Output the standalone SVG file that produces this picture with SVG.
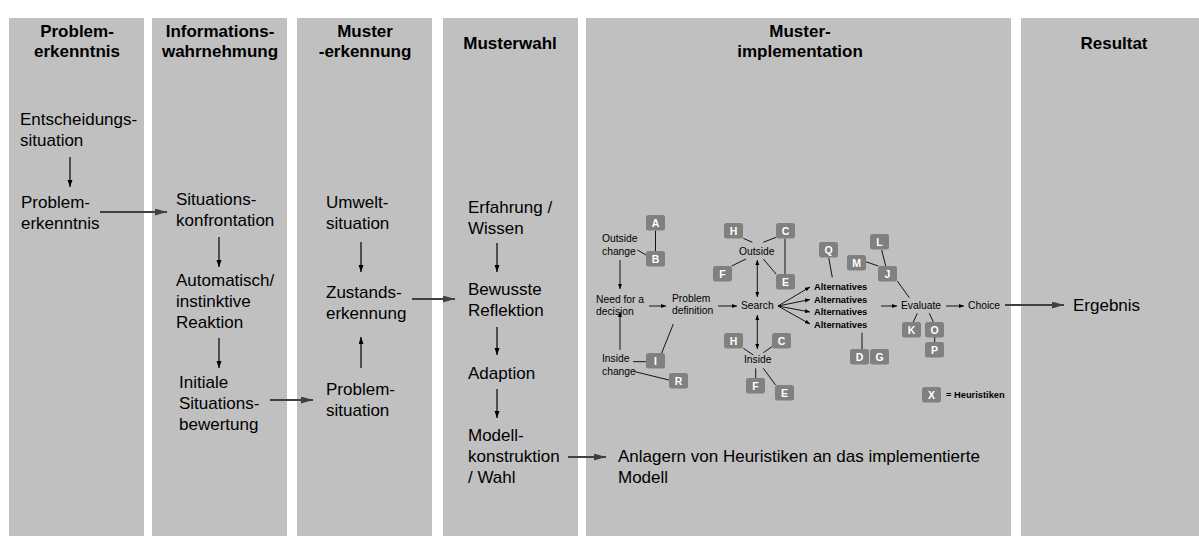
<svg xmlns="http://www.w3.org/2000/svg" width="1199" height="536" viewBox="0 0 1199 536">
<style>
.col{fill:#c0c0c0}
.hd{font-family:"Liberation Sans",Arial,sans-serif;font-size:17px;font-weight:bold;fill:#000;text-anchor:middle}
.tx{font-family:"Liberation Sans",Arial,sans-serif;font-size:17px;fill:#000}
.sm{font-family:"Liberation Sans",Arial,sans-serif;font-size:10.3px;fill:#000}
.smb{font-family:"Liberation Sans",Arial,sans-serif;font-size:9.3px;font-weight:bold;fill:#000}
.hb rect{fill:#808080}
.hb text{font-family:"Liberation Sans",Arial,sans-serif;font-size:10.5px;font-weight:bold;fill:#fff;text-anchor:middle}
.a1{stroke:#000;stroke-width:1.2;fill:none;marker-end:url(#ah)}
.a2{stroke:#404040;stroke-width:2.2;fill:none;marker-end:url(#ahT)}
.a3{stroke:#000;stroke-width:0.9;fill:none;marker-end:url(#ahS)}
.a4{stroke:#000;stroke-width:0.9;fill:none;marker-end:url(#ahS);marker-start:url(#ahS)}
.ln{stroke:#000;stroke-width:0.9;fill:none}
</style>
<defs>
<marker id="ah" markerUnits="userSpaceOnUse" markerWidth="8" markerHeight="6" refX="7" refY="2.5" orient="auto"><path d="M0,0 L7,2.5 L0,5 z" fill="#000"/></marker>
<marker id="ahT" markerUnits="userSpaceOnUse" markerWidth="13" markerHeight="8" refX="12" refY="3.5" orient="auto"><path d="M0,0 L12,3.5 L0,7 z" fill="#404040"/></marker>
<marker id="ahS" markerUnits="userSpaceOnUse" markerWidth="6" markerHeight="5" refX="5" refY="2" orient="auto-start-reverse"><path d="M0,0 L5,2 L0,4 z" fill="#000"/></marker>
</defs>
<rect width="1199" height="536" fill="#fff"/>
<g id="columns">
<rect class="col" x="9" y="18" width="135" height="518"/>
<rect class="col" x="152" y="18" width="135" height="518"/>
<rect class="col" x="297" y="18" width="135" height="518"/>
<rect class="col" x="443" y="18" width="135" height="518"/>
<rect class="col" x="586" y="18" width="425" height="518"/>
<rect class="col" x="1021" y="18" width="178" height="518"/>
</g>
<g id="headers">
<text class="hd" x="77" y="37">Problem-</text><text class="hd" x="77" y="57">erkenntnis</text>
<text class="hd" x="220" y="37">Informations-</text><text class="hd" x="220" y="57">wahrnehmung</text>
<text class="hd" x="365" y="37">Muster</text><text class="hd" x="365" y="57">-erkennung</text>
<text class="hd" x="510" y="49">Musterwahl</text>
<text class="hd" x="800" y="37">Muster-</text><text class="hd" x="800" y="57">implementation</text>
<text class="hd" x="1114" y="49">Resultat</text>
</g>
<g id="n-entscheidung"><text class="tx" x="20" y="125">Entscheidungs-</text><text class="tx" x="20" y="146">situation</text></g>
<g id="n-problemerkenntnis"><text class="tx" x="21" y="208">Problem-</text><text class="tx" x="21" y="229">erkenntnis</text></g>
<g id="n-konfrontation"><text class="tx" x="176" y="205">Situations-</text><text class="tx" x="176" y="226">konfrontation</text></g>
<g id="n-reaktion"><text class="tx" x="176" y="286">Automatisch/</text><text class="tx" x="176" y="307">instinktive</text><text class="tx" x="176" y="328">Reaktion</text></g>
<g id="n-bewertung"><text class="tx" x="179" y="388">Initiale</text><text class="tx" x="179" y="409">Situations-</text><text class="tx" x="179" y="430">bewertung</text></g>
<g id="n-umwelt"><text class="tx" x="326" y="208">Umwelt-</text><text class="tx" x="326" y="229">situation</text></g>
<g id="n-zustand"><text class="tx" x="326" y="298">Zustands-</text><text class="tx" x="326" y="319">erkennung</text></g>
<g id="n-problemsituation"><text class="tx" x="326" y="395">Problem-</text><text class="tx" x="326" y="416">situation</text></g>
<g id="n-erfahrung"><text class="tx" x="468" y="213">Erfahrung /</text><text class="tx" x="468" y="234">Wissen</text></g>
<g id="n-reflektion"><text class="tx" x="468" y="295">Bewusste</text><text class="tx" x="468" y="316">Reflektion</text></g>
<g id="n-adaption"><text class="tx" x="468" y="379">Adaption</text></g>
<g id="n-modell"><text class="tx" x="468" y="441">Modell-</text><text class="tx" x="468" y="462">konstruktion</text><text class="tx" x="468" y="483">/ Wahl</text></g>
<g id="n-anlagern"><text class="tx" x="618" y="462">Anlagern von Heuristiken an das implementierte</text><text class="tx" x="618" y="483">Modell</text></g>
<g id="n-ergebnis"><text class="tx" x="1073" y="311">Ergebnis</text></g>
<g id="n-model-texts">
<text class="sm" x="602" y="242">Outside</text><text class="sm" x="602" y="255">change</text>
<text class="sm" x="596" y="303">Need for a</text><text class="sm" x="596" y="315">decision</text>
<text class="sm" x="672" y="302">Problem</text><text class="sm" x="672" y="314">definition</text>
<text class="sm" x="741" y="309">Search</text>
<text class="sm" x="602" y="362">Inside</text><text class="sm" x="602" y="375">change</text>
<text class="sm" x="739" y="255">Outside</text>
<text class="sm" x="744" y="363">Inside</text>
<text class="smb" x="814" y="290">Alternatives</text>
<text class="smb" x="814" y="302.7">Alternatives</text>
<text class="smb" x="814" y="315.3">Alternatives</text>
<text class="smb" x="814" y="328">Alternatives</text>
<text class="sm" x="901" y="309">Evaluate</text>
<text class="sm" x="968" y="309">Choice</text>
<text class="smb" x="946" y="398">= Heuristiken</text>
</g>
<g id="connectors">
<line class="a1" x1="70" y1="157" x2="70" y2="187"/>
<line class="a2" x1="100" y1="212" x2="167" y2="212"/>
<line class="a1" x1="219" y1="237" x2="219" y2="267"/>
<line class="a1" x1="219" y1="338" x2="219" y2="368"/>
<line class="a2" x1="270" y1="400" x2="313" y2="400"/>
<line class="a1" x1="361" y1="242" x2="361" y2="272"/>
<line class="a1" x1="361" y1="368" x2="361" y2="337"/>
<line class="a2" x1="412" y1="299" x2="455" y2="299"/>
<line class="a1" x1="497" y1="243" x2="497" y2="272"/>
<line class="a1" x1="497" y1="327" x2="497" y2="355"/>
<line class="a1" x1="497" y1="389" x2="497" y2="418"/>
<line class="a2" x1="568" y1="457" x2="606" y2="457"/>
<line class="a2" x1="1005" y1="305" x2="1064" y2="305"/>
<line class="a3" x1="620" y1="260" x2="620" y2="289"/>
<line class="a3" x1="620" y1="350" x2="620" y2="312"/>
<line class="a3" x1="649" y1="306" x2="666" y2="306"/>
<line class="a3" x1="718" y1="306" x2="737" y2="306"/>
<line class="a3" x1="778" y1="306" x2="810" y2="287"/>
<line class="a3" x1="778" y1="306" x2="810" y2="299.5"/>
<line class="a3" x1="778" y1="306" x2="810" y2="312"/>
<line class="a3" x1="778" y1="306" x2="810" y2="324"/>
<line class="a4" x1="757.3" y1="260" x2="757.3" y2="297"/>
<line class="a4" x1="757.3" y1="315" x2="757.3" y2="349"/>
<line class="a3" x1="881" y1="306" x2="897" y2="306"/>
<line class="a3" x1="946" y1="306" x2="964" y2="306"/>
<line class="ln" x1="655.5" y1="230.5" x2="655.5" y2="251"/>
<line class="ln" x1="637.5" y1="250" x2="646" y2="255"/>
<line class="ln" x1="633" y1="361.7" x2="646" y2="361.7"/>
<line class="ln" x1="661.7" y1="353" x2="673.3" y2="324"/>
<line class="ln" x1="635" y1="371.7" x2="669" y2="380"/>
<line class="ln" x1="743.3" y1="238.3" x2="752.3" y2="242.3"/>
<line class="ln" x1="776" y1="237.3" x2="763.3" y2="242.3"/>
<line class="ln" x1="785" y1="238.5" x2="785" y2="274"/>
<line class="ln" x1="731.7" y1="266" x2="746" y2="259"/>
<line class="ln" x1="763.3" y1="259" x2="776" y2="274"/>
<line class="ln" x1="743.3" y1="348.3" x2="753.3" y2="355"/>
<line class="ln" x1="772" y1="346.7" x2="763.3" y2="352.7"/>
<line class="ln" x1="755.7" y1="368.3" x2="755.7" y2="378.3"/>
<line class="ln" x1="763.3" y1="368.3" x2="775.5" y2="385"/>
<line class="ln" x1="828.7" y1="257.7" x2="832.3" y2="277.3"/>
<line class="ln" x1="881.7" y1="250" x2="885.7" y2="266"/>
<line class="ln" x1="865.7" y1="261.7" x2="878.3" y2="266"/>
<line class="ln" x1="897.3" y1="281" x2="909.3" y2="297.7"/>
<line class="ln" x1="917.3" y1="313.3" x2="913.3" y2="322"/>
<line class="ln" x1="929.3" y1="313.3" x2="933.3" y2="322"/>
<line class="ln" x1="934.7" y1="337" x2="934.7" y2="342"/>
<line class="ln" x1="862" y1="332.7" x2="862" y2="349.5"/>
</g>
<g id="h-A" class="hb"><rect x="646" y="215" width="19" height="15.5" rx="2.5"/><text x="655.5" y="226.8">A</text></g>
<g id="h-B" class="hb"><rect x="646" y="251" width="19" height="15.5" rx="2.5"/><text x="655.5" y="262.8">B</text></g>
<g id="h-I" class="hb"><rect x="646" y="353" width="19" height="15.5" rx="2.5"/><text x="655.5" y="364.8">I</text></g>
<g id="h-R" class="hb"><rect x="669" y="373" width="19" height="15.5" rx="2.5"/><text x="678.5" y="384.8">R</text></g>
<g id="h-H1" class="hb"><rect x="724" y="223" width="19" height="15.5" rx="2.5"/><text x="733.5" y="234.8">H</text></g>
<g id="h-C1" class="hb"><rect x="776" y="223" width="19" height="15.5" rx="2.5"/><text x="785.5" y="234.8">C</text></g>
<g id="h-F1" class="hb"><rect x="713" y="266" width="19" height="15.5" rx="2.5"/><text x="722.5" y="277.8">F</text></g>
<g id="h-E1" class="hb"><rect x="776" y="274" width="19" height="15.5" rx="2.5"/><text x="785.5" y="285.8">E</text></g>
<g id="h-H2" class="hb"><rect x="724" y="333" width="19" height="15.5" rx="2.5"/><text x="733.5" y="344.8">H</text></g>
<g id="h-C2" class="hb"><rect x="772" y="333" width="19" height="15.5" rx="2.5"/><text x="781.5" y="344.8">C</text></g>
<g id="h-F2" class="hb"><rect x="746" y="378" width="19" height="15.5" rx="2.5"/><text x="755.5" y="389.8">F</text></g>
<g id="h-E2" class="hb"><rect x="775" y="385" width="19" height="15.5" rx="2.5"/><text x="784.5" y="396.8">E</text></g>
<g id="h-Q" class="hb"><rect x="819" y="242" width="19" height="15.5" rx="2.5"/><text x="828.5" y="253.8">Q</text></g>
<g id="h-L" class="hb"><rect x="870" y="234" width="19" height="15.5" rx="2.5"/><text x="879.5" y="245.8">L</text></g>
<g id="h-M" class="hb"><rect x="847" y="255" width="19" height="15.5" rx="2.5"/><text x="856.5" y="266.8">M</text></g>
<g id="h-J" class="hb"><rect x="878" y="266" width="19" height="15.5" rx="2.5"/><text x="887.5" y="277.8">J</text></g>
<g id="h-K" class="hb"><rect x="902" y="322" width="19" height="15.5" rx="2.5"/><text x="911.5" y="333.8">K</text></g>
<g id="h-O" class="hb"><rect x="925" y="322" width="19" height="15.5" rx="2.5"/><text x="934.5" y="333.8">O</text></g>
<g id="h-P" class="hb"><rect x="925" y="342" width="19" height="15.5" rx="2.5"/><text x="934.5" y="353.8">P</text></g>
<g id="h-D" class="hb"><rect x="850" y="349" width="19" height="15.5" rx="2.5"/><text x="859.5" y="360.8">D</text></g>
<g id="h-G" class="hb"><rect x="870" y="349" width="19" height="15.5" rx="2.5"/><text x="879.5" y="360.8">G</text></g>
<g id="h-X" class="hb"><rect x="922" y="387" width="19" height="15.5" rx="2.5"/><text x="931.5" y="398.8">X</text></g>
</svg>
